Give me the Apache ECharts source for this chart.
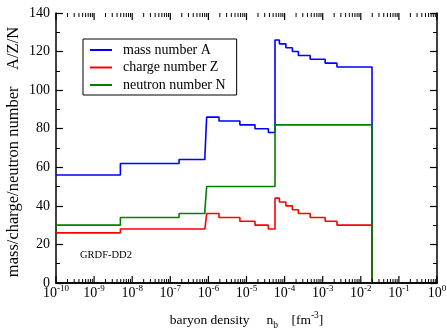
<!DOCTYPE html>
<html>
<head>
<meta charset="utf-8">
<script src="https://cdn.jsdelivr.net/npm/echarts@6/dist/echarts.min.js"></script>
<style>
  html, body { margin: 0; padding: 0; background: #fff; }
  #chart { width: 447px; height: 331px; }
</style>
</head>
<body>
<div id="chart"></div>
<script>
// Baryon density (fm^-3) at which the composition changes; each value holds until the next break
const densityBreaks = [1e-10, 4.9e-9, 1.7e-7, 8.1e-7, 9.0e-7, 1.9e-6, 6.7e-6, 1.67e-5, 3.75e-5,
  5.6e-5, 7.3e-5, 1.08e-4, 1.6e-4, 2.3e-4, 4.7e-4, 1.16e-3, 2.37e-3, 1.97e-2];
const massNumberA    = [56, 62, 64, 66, 86, 84, 82, 80, 78, 126, 124, 122, 120, 118, 116, 114, 112, 0];
const chargeNumberZ  = [26, 28, 28, 28, 36, 34, 32, 30, 28, 44, 42, 40, 38, 36, 34, 32, 30, 0];
const neutronNumberN = [30, 34, 36, 38, 50, 50, 50, 50, 50, 82, 82, 82, 82, 82, 82, 82, 82, 0];

const seriesNames = ['mass number A', 'charge number Z', 'neutron number N'];
const seriesColors = ['#0000ff', '#ff0000', '#008000'];
const decadeTicks = [1e-10, 1e-9, 1e-8, 1e-7, 1e-6, 1e-5, 1e-4, 1e-3, 1e-2, 1e-1, 1];
const minorMultipliers = [2, 3, 4, 5, 6, 7, 8, 9];
const yRange = [0, 140];
const modelLabel = 'GRDF-DD2';

const FONT = '"Liberation Serif", "DejaVu Serif", serif';

// tick positions: decades (long) and 2..9 x decade (short)
const frameTicks = [];
for (let i = 0; i < decadeTicks.length; i++) {
  frameTicks.push([decadeTicks[i], 7]);
  if (i < decadeTicks.length - 1) {
    for (const m of minorMultipliers) frameTicks.push([m * decadeTicks[i], 4]);
  }
}

const pairs = (ys) => densityBreaks.map((x, i) => [x, ys[i]]);

const chart = echarts.init(document.getElementById('chart'), null, { renderer: 'canvas' });

const axisLineStyle = { color: '#000', width: 1.5 };

// inward ticks on the bottom and top frame edges, placed through the log x scale
function renderFrameTick(params, api) {
  const v = api.value(0);
  const len = api.value(1);
  const pb = api.coord([v, yRange[0]]);
  const pt = api.coord([v, yRange[1]]);
  const w = len > 5 ? 1.2 : 1;
  return {
    type: 'group',
    children: [
      { type: 'line', shape: { x1: pb[0], y1: pb[1], x2: pb[0], y2: pb[1] - len }, style: { stroke: '#000', lineWidth: w } },
      { type: 'line', shape: { x1: pt[0], y1: pt[1], x2: pt[0], y2: pt[1] + len }, style: { stroke: '#000', lineWidth: w } }
    ]
  };
}

const option = {
  backgroundColor: '#fff',
  animation: false,
  grid: { left: 56, right: 10, top: 13, bottom: 48, containLabel: false, outerBoundsMode: 'none' },
  legend: {
    left: 83, top: 39, orient: 'vertical',
    data: seriesNames,
    icon: 'rect', itemWidth: 22, itemHeight: 2, itemGap: 3.5,
    borderColor: '#000', borderWidth: 1, borderRadius: 0,
    padding: [4, 11, 3, 7],
    textStyle: { fontFamily: FONT, fontSize: 14, color: '#000', lineHeight: 14, padding: [0, 0, 0, 6] }
  },
  xAxis: [
    {
      type: 'log', logBase: 10, min: 1e-10, max: 1, position: 'bottom',
      splitLine: { show: false },
      axisLine: { show: true, lineStyle: axisLineStyle },
      axisTick: { show: false },
      axisLabel: {
        show: true, margin: 3, customValues: decadeTicks,
        formatter: (v) => '{b|10}{s|' + Math.round(Math.log10(v)) + '}',
        rich: {
          b: { fontFamily: FONT, fontSize: 14, color: '#000', lineHeight: 14, verticalAlign: 'bottom' },
          s: { fontFamily: FONT, fontSize: 9, color: '#000', lineHeight: 10, padding: [0, 0, 7, 0], verticalAlign: 'bottom' }
        }
      },
      name: '{t|baryon density     n}{sub|b}{t|    [fm}{sup|-3}{t|]}',
      nameLocation: 'middle', nameGap: 33, nameMoveOverlap: false,
      nameTextStyle: {
        rich: {
          t: { fontFamily: FONT, fontSize: 13.5, color: '#000', lineHeight: 14, verticalAlign: 'bottom', padding: [0, 0, 3, 0] },
          sub: { fontFamily: FONT, fontSize: 9.5, color: '#000', lineHeight: 10, verticalAlign: 'bottom' },
          sup: { fontFamily: FONT, fontSize: 9.5, color: '#000', lineHeight: 10, verticalAlign: 'bottom', padding: [0, 0, 10, 0] }
        }
      }
    },
    {
      type: 'log', logBase: 10, min: 1e-10, max: 1, position: 'top',
      splitLine: { show: false },
      axisLine: { show: true, lineStyle: axisLineStyle },
      axisTick: { show: false },
      axisLabel: { show: false }
    }
  ],
  yAxis: [
    {
      type: 'value', min: yRange[0], max: yRange[1], interval: 20, position: 'left',
      splitLine: { show: false },
      axisLine: { show: true, lineStyle: axisLineStyle },
      axisTick: { show: true, inside: true, length: 7, lineStyle: { color: '#000', width: 1.2 } },
      minorTick: { show: true, splitNumber: 2, length: 4, lineStyle: { color: '#000', width: 1 } },
      axisLabel: { fontFamily: FONT, fontSize: 14, color: '#000', margin: 6 },
      name: 'mass/charge/neutron number    A/Z/N',
      nameLocation: 'middle', nameGap: 34, nameMoveOverlap: false,
      nameTextStyle: { fontFamily: FONT, fontSize: 16.5, color: '#000', padding: [0, 8, 0, 0] }
    },
    {
      type: 'value', min: yRange[0], max: yRange[1], interval: 20, position: 'right',
      splitLine: { show: false },
      axisLine: { show: true, lineStyle: axisLineStyle },
      axisTick: { show: true, inside: true, length: 7, lineStyle: { color: '#000', width: 1.2 } },
      minorTick: { show: true, splitNumber: 2, length: 4, lineStyle: { color: '#000', width: 1 } },
      axisLabel: { show: false }
    }
  ],
  graphic: [
    {
      type: 'text', left: 80, top: 250,
      style: { text: modelLabel, fontFamily: FONT, fontSize: 10.5, fill: '#000' }
    }
  ],
  series: [massNumberA, chargeNumberZ, neutronNumberN].map((ys, i) => ({
    name: seriesNames[i],
    type: 'line',
    step: 'end',
    xAxisIndex: 0, yAxisIndex: 0,
    data: pairs(ys),
    showSymbol: false, symbol: 'none',
    color: seriesColors[i],
    itemStyle: { color: seriesColors[i] },
    lineStyle: { color: seriesColors[i], width: 1.6 },
    z: 2 + i
  })).concat([{
    type: 'custom',
    name: 'frame ticks',
    xAxisIndex: 0, yAxisIndex: 0,
    data: frameTicks,
    encode: { x: 0 },
    renderItem: renderFrameTick,
    silent: true, clip: false, z: 10
  }])
};

chart.setOption(option);
</script>
</body>
</html>
